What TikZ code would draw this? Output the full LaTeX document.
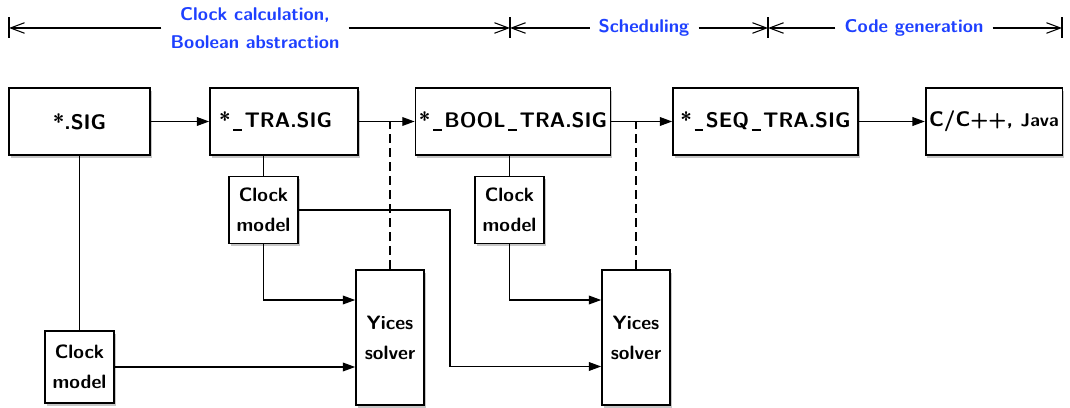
\documentclass[tikz,border=0pt]{standalone}
\usetikzlibrary{arrows.meta,shadows}
\definecolor{phaseblue}{RGB}{30,64,255}
\newcommand\usc{\kern0.12em\rule[-0.14em]{0.42em}{0.08em}\kern0.12em}
\tikzset{
	file/.style={draw, line width=1pt, fill=white, minimum height=1.34cm,
		font=\sffamily\bfseries\large, inner xsep=2pt,
		drop shadow={shadow xshift=1pt, shadow yshift=-1.5pt, opacity=0.45}},
	tool/.style={file, font=\sffamily\bfseries\fontsize{11}{13}\selectfont,
		align=center, inner sep=2pt},
	flow/.style={line width=0.6pt, -{Triangle[length=7pt,width=5pt]}},
	phase/.style={text=phaseblue, font=\sffamily\bfseries\fontsize{10.5}{12}\selectfont,
		inner xsep=5pt},
	span/.style={line width=0.6pt, -{Straight Barb[length=8pt,width=6pt]}},
	link/.style={line width=0.6pt},
}
\begin{document}
\begin{tikzpicture}[x=0.02cm,y=-0.02cm]
	\useasboundingbox (0,0) rectangle (1070,408);
        % phases along the top
	\node[phase,align=center] (calc) at (255,28) {Clock calculation,\\[4pt]Boolean abstraction};
	\node[phase] (sched) at (644,28) {Scheduling};
	\node[phase] (gen) at (914,28) {Code generation};
	\coordinate (t0) at (9,28);
	\coordinate (t1) at (510,28);
	\coordinate (t2) at (768,28);
	\coordinate (t3) at (1062,28);
	\foreach \t in {t0,t1,t2,t3}
		\draw[link] ([yshift=0.21cm]\t) -- ([yshift=-0.21cm]\t);
	\draw[span] (calc) -- (t0);
	\draw[span] (calc) -- (t1);
	\draw[span] (sched) -- (t1);
	\draw[span] (sched) -- (t2);
	\draw[span] (gen) -- (t2);
	\draw[span] (gen) -- (t3);

        % program files
	\node[file,minimum width=2.82cm] (sig) at (79.5,121.5) {*.SIG};
	\node[file,minimum width=2.96cm,text width=2.6cm,align=left,inner xsep=0.18cm] (tra) at (284,121.5) {*\usc TRA.SIG};
	\node[file,minimum width=3.88cm] (bool) at (513,121.5) {*\usc BOOL\usc TRA.SIG};
	\node[file,minimum width=3.7cm] (seq) at (765.5,121.5) {*\usc SEQ\usc TRA.SIG};
	\node[file,minimum width=2.72cm] (code) at (994,121.5) {C/C++, {\fontsize{10.5}{12}\selectfont Java}};

        % clock models and solvers
	\node[tool,minimum width=1.38cm] (cmA) at (263.5,210) {Clock\\[4pt]model};
	\node[tool,minimum width=1.38cm] (cmB) at (509.5,210) {Clock\\[4pt]model};
	\node[tool,minimum width=1.38cm,minimum height=1.44cm] (cmC) at (79.5,367) {Clock\\[4pt]model};
	\node[tool,minimum width=1.36cm,minimum height=2.7cm] (yA) at (390,337.5) {Yices\\[4pt]solver};
	\node[tool,minimum width=1.36cm,minimum height=2.7cm] (yB) at (636,337.5) {Yices\\[4pt]solver};

	\draw[flow] (sig) -- (tra);
	\draw[flow] (tra) -- (bool);
	\draw[flow] (bool) -- (seq);
	\draw[flow] (seq) -- (code);

	\draw[link] (sig) -- (cmC);
	\draw[link] (cmA.north) -- (cmA.north |- tra.south);
	\draw[link] (cmB.north) -- (cmB.north |- bool.south);
	\draw[link,dash pattern=on 5pt off 3pt] (yA.north) -- (yA.north |- tra.east);
	\draw[link,dash pattern=on 5pt off 3pt] (yB.north) -- (yB.north |- bool.east);

	\coordinate (yAin) at ([yshift=0.75cm]yA.west);
	\coordinate (yBin) at ([yshift=0.75cm]yB.west);
	\coordinate (yBlow) at ([yshift=-0.58cm]yB.west);
	\coordinate (bend) at (450,0);
	\draw[flow] (cmA.south) |- (yAin);
	\draw[flow] (cmC.east) -- (cmC.east -| yA.west);
	\draw[flow] (cmB.south) |- (yBin);
	\draw[flow] (cmA.east) -| (bend |- yBlow) -- (yBlow);
\end{tikzpicture}
\end{document}
